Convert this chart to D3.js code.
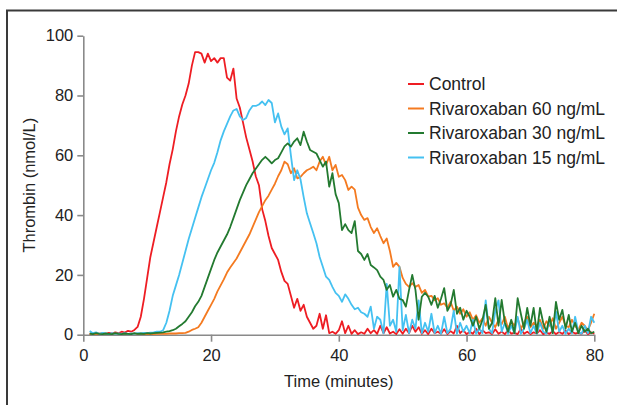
<!DOCTYPE html>
<html>
<head>
<meta charset="utf-8">
<script src="https://cdn.jsdelivr.net/npm/d3@7"></script>
<style>
  body { margin: 0; background: #fff; }
  svg text { font-family: "Liberation Sans", Arial, sans-serif; fill: #222; }
</style>
</head>
<body>
<div id="canvas"></div>
<script>
// readings every 0.5 min, from 1 to 80 min
const minutes = d3.range(2, 161).map(k => k / 2);

const control = [
  0.3,0.2,0.4,0.2,0.5,0.3,0.6,0.4,0.8,0.5,
  1.0,0.7,1.3,1.0,1.6,2.6,6,12,19,26,
  31,36,41,46,51,57,62,68,73,77,
  80,84,90,94.5,94.5,94,91,94,91.5,92.5,
  91,92.5,92.5,86,85,89,79,76,71,66,
  62,58,53,50,42,38,33,29,27,25,
  21,18,17,13,9,12,8,10,6,4,
  2,3,7,2,6.5,0.5,1,0.3,1.5,4.5,
  0.5,3,0.3,1.5,0.2,0.8,0.3,2,0.5,1.5,
  0.3,3,0.5,2.5,0.4,1,0.2,1.8,0.3,2,
  0.5,3,1,2.5,0.3,1.5,0.2,2,0.5,1,
  0.3,1.8,0.2,1.2,0.4,3,0.5,1.5,0.2,1,
  0.3,2,0.2,1.5,0.5,0.8,0.2,1.8,0.3,1,
  0.2,1.5,0.4,0.6,0.2,2,0.3,1,0.2,0.8,
  0.4,1.5,0.2,0.7,0.3,1.2,0.2,0.9,0.3,1.4,
  0.2,1,0.4,0.6,0.3,1.5,0.2,0.8,0.3
];

const riva60 = [
  0.2,0.3,0.2,0.4,0.3,0.2,0.3,0.2,0.4,0.3,
  0.2,0.3,0.2,0.3,0.2,0.3,0.2,0.3,0.2,0.3,
  0.2,0.3,0.3,0.3,0.3,0.4,0.4,0.4,0.5,0.5,
  0.6,1.0,1.6,2.0,2.5,4,6,8,10,12,
  14.5,16.5,18.5,20.8,22.5,24,25.5,27.5,29.5,31.5,
  33.5,36,38.5,41,43,45,46.5,48.5,50.5,53,
  55,57.9,57,54,55.7,52.3,52.8,54,55,55.5,
  56.2,55,57.9,59.5,56.8,59.5,55,56.8,52.8,53.4,
  51.7,48.4,49.5,48.5,42.5,40,38.4,39,36,34,
  35.6,33,30.6,32.2,28,22.7,24,22.7,19,17,
  16,17.2,16,16.6,14,15,12.7,13,11.5,12.2,
  10,10.5,9,11,8,9.4,7,8.5,6,7.5,
  5,6.5,4,5.5,3,6,4,2.5,5,3.5,
  6,2,4.5,3,5.5,2,4,6,2.5,4,
  3,5,2,4.5,3,5.5,2,4,6,3,
  2.5,5,3,1.5,4,3,1.5,4,7
];

const riva30 = [
  0.4,0.2,0.5,0.3,0.2,0.4,0.3,0.2,0.5,0.3,
  0.2,0.4,0.3,0.2,0.5,0.3,0.4,0.3,0.5,0.4,
  0.5,0.6,0.7,0.8,1.0,1.2,1.5,2.0,2.8,3.6,
  4.5,6,7.5,9.5,11,13,16,19,22,25,
  27.5,29.5,31.5,33.5,36,39,42,45,47.5,50,
  52,54,55.5,57,58.5,59.5,58.5,57.3,58.4,59,
  61,63,64,62.9,64.6,65.7,63.4,67.9,64.6,61.8,
  61.2,60.6,58.4,56.2,57.9,49.5,54,47,44,35,
  37,35,34,38,28,27,25,27,23.3,22.5,
  21.6,19.4,18.3,15,16.6,12.7,15,12,11.6,9.4,
  15,20,15,5,12.7,14,12.7,10,13,9,
  12,15.6,8,10,15,7,9,5,8,6,
  3,6,2,5,10,2,4,12.2,3,11.6,
  4,1,5,0.5,12.2,7,2,9,3,9,
  0.5,9,4,1,6,0.5,11,5,8.3,2,
  6.6,1,4,0.5,3,1,2,0.5,1
];

const riva15 = [
  1.2,0.5,0.8,0.3,0.6,0.4,0.2,0.5,0.3,0.4,
  0.3,0.5,0.2,0.4,0.3,0.5,0.4,0.6,0.5,0.7,
  0.8,1.0,1.0,1.5,4,8,13,16.5,20,24,
  28,32,35.5,39,42.5,46,49,52,55,57.5,
  61,65,68,70.5,73,75,75.5,73,71.8,72.5,
  75,76.5,76.5,77,78,76.8,78.5,77.5,71,74,
  69.6,67,69,60,51.7,55,52,46,40.6,37.3,
  34,30.6,26,22.7,19.4,18.3,16,14,13,11,
  13.5,12,10,8.5,9,7.5,7,6,9.4,2,
  6,5,0.5,17,3,5,1,22.7,1.5,6.6,
  0.5,5,2,11.5,0.5,4,1,7,0.5,3,
  0.3,6,0.5,2,8,0.3,4,1,3,0.5,
  5,0.3,2,0.5,11.5,2,0.5,8,11.5,1,
  4,0.3,3,0.5,6,0.3,2,5,0.5,3,
  0.3,4,1,0.3,5,0.5,7.7,1,3,0.3,
  2,0.5,6,1,0.3,3,0.5,6,4
];

const seriesNames = ["Control", "Rivaroxaban 60 ng/mL", "Rivaroxaban 30 ng/mL", "Rivaroxaban 15 ng/mL"];
const seriesColors = ["#ee1d23", "#f47a20", "#237a30", "#45c1f1"];
const seriesValues = [control, riva60, riva30, riva15];
const drawOrder = [0, 1, 3, 2];

const xTicks = [0, 20, 40, 60, 80];
const yTicks = [0, 20, 40, 60, 80, 100];

function render(){
  const w = 617, h = 405;
  const margin = { top: 35.7, right: 23, bottom: 70.3, left: 83.3 };
  const width = 594.3 - margin.left;
  const height = 334.7 - margin.top;

  const svg = d3.select("#canvas")
                .append("svg")
                .attr("width", w)
                .attr("height", h);

  // frame round the figure, only left and top edges are inside the window
  svg.append("rect")
     .attr("x", 7).attr("y", 10.5)
     .attr("width", 700).attr("height", 500)
     .attr("fill", "none")
     .attr("stroke", "#3a3a3a")
     .attr("stroke-width", 2);

  const chart = svg.append("g")
                   .attr("transform", "translate(" + margin.left + "," + margin.top + ")");

  const x = d3.scaleLinear().domain([0, 80]).range([0, width]);
  const y = d3.scaleLinear().domain([0, 100]).range([height, 0]);

  const xAxis = d3.axisBottom(x).tickValues(xTicks).tickSize(7).tickPadding(8).tickSizeOuter(0);
  const yAxis = d3.axisLeft(y).tickValues(yTicks).tickSize(6).tickPadding(4).tickSizeOuter(0);

  const gx = chart.append("g")
                  .attr("transform", "translate(0," + height + ")")
                  .call(xAxis);
  const gy = chart.append("g").call(yAxis);

  [gx, gy].forEach(g => {
    g.selectAll("path, line").attr("stroke", "#8a8a8a").attr("stroke-width", 1.6);
    g.selectAll("text").attr("font-size", "16.5px").attr("fill", "#1a1a1a");
  });

  const line = d3.line()
                 .x((d, i) => x(minutes[i]))
                 .y(d => y(d));

  drawOrder.forEach(k => {
    chart.append("path")
         .datum(seriesValues[k])
         .attr("fill", "none")
         .attr("stroke", seriesColors[k])
         .attr("stroke-width", 1.8)
         .attr("stroke-linejoin", "round")
         .attr("d", line);
  });

  // axis titles
  chart.append("text")
       .attr("x", width / 2)
       .attr("y", height + 52)
       .attr("text-anchor", "middle")
       .attr("font-size", "16.5px")
       .attr("fill", "#1a1a1a")
       .text("Time (minutes)");

  chart.append("text")
       .attr("transform", "translate(" + (-48) + "," + (height / 2) + ") rotate(-90)")
       .attr("text-anchor", "middle")
       .attr("font-size", "16.5px")
       .attr("fill", "#1a1a1a")
       .text("Thrombin (nmol/L)");

  // legend
  const legend = svg.append("g").attr("transform", "translate(408,84)");
  seriesNames.forEach((name, i) => {
    const row = legend.append("g").attr("transform", "translate(0," + (i * 24.5) + ")");
    row.append("line")
       .attr("x1", 0).attr("x2", 16)
       .attr("stroke", seriesColors[i])
       .attr("stroke-width", 2);
    row.append("text")
       .attr("x", 21)
       .attr("dy", "0.35em")
       .attr("font-size", "17.5px")
       .attr("fill", "#1a1a1a")
       .text(name);
  });
}

render();
</script>
</body>
</html>
